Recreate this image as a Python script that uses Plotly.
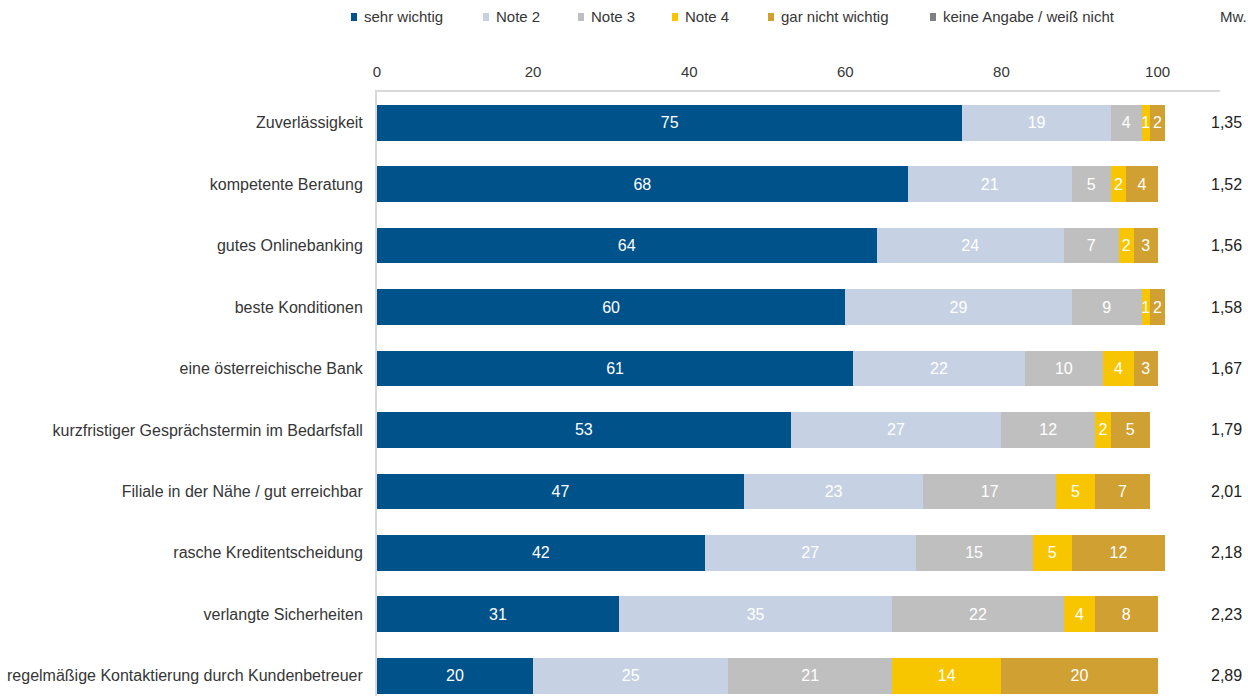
import plotly.graph_objects as go

# --- data -------------------------------------------------------------
categories = [
    "Zuverlässigkeit",
    "kompetente Beratung",
    "gutes Onlinebanking",
    "beste Konditionen",
    "eine österreichische Bank",
    "kurzfristiger Gesprächstermin im Bedarfsfall",
    "Filiale in der Nähe / gut erreichbar",
    "rasche Kreditentscheidung",
    "verlangte Sicherheiten",
    "regelmäßige Kontaktierung durch Kundenbetreuer",
]

series_names = ["sehr wichtig", "Note 2", "Note 3", "Note 4",
                "gar nicht wichtig", "keine Angabe / weiß nicht"]

sehr_wichtig = [75, 68, 64, 60, 61, 53, 47, 42, 31, 20]
note_2 = [19, 21, 24, 29, 22, 27, 23, 27, 35, 25]
note_3 = [4, 5, 7, 9, 10, 12, 17, 15, 22, 21]
note_4 = [1, 2, 2, 1, 4, 2, 5, 5, 4, 14]
gar_nicht_wichtig = [2, 4, 3, 2, 3, 5, 7, 12, 8, 20]
keine_angabe = [0, 0, 0, 0, 0, 0, 0, 0, 0, 0]

mittelwert = [1.35, 1.52, 1.56, 1.58, 1.67, 1.79, 2.01, 2.18, 2.23, 2.89]

x_ticks = [0, 20, 40, 60, 80, 100]

# --- styling ----------------------------------------------------------
colors = ["#00528A", "#C6D2E3", "#BFBFBF", "#F7C600", "#D1A033", "#808080"]
FONT = "Liberation Sans, Arial, sans-serif"
TEXT_COLOR = "#363636"
LINE_COLOR = "#D9D9D9"

W, H = 1248, 696
L, R, T, B = 377, 28, 92, 0
PW, PH = W - L - R, H - T - B


def paper_x(px):
    return (px - L) / PW


def paper_y(py):
    return (H - B - py) / PH


series_values = [sehr_wichtig, note_2, note_3, note_4, gar_nicht_wichtig, keine_angabe]

fig = go.Figure()
for name, vals, col in zip(series_names, series_values, colors):
    fig.add_trace(go.Bar(
        name=name,
        y=categories,
        x=vals,
        orientation="h",
        marker=dict(color=col, line=dict(width=0)),
        text=[str(v) if v else "" for v in vals],
        textposition="inside",
        insidetextanchor="middle",
        textangle=0,
        textfont=dict(family=FONT, size=16, color="white"),
        width=0.58,
        showlegend=False,
        hoverinfo="x+y+name",
    ))

# legend drawn as coloured squares with labels along the top
legend_x_px = [351, 483, 578, 672, 768, 930]
legend_y_px = 17
shapes = []
annotations = []
for name, col, lx in zip(series_names, colors, legend_x_px):
    shapes.append(dict(
        type="rect", xref="paper", yref="paper",
        x0=paper_x(lx), x1=paper_x(lx + 6),
        y0=paper_y(legend_y_px + 4), y1=paper_y(legend_y_px - 4),
        fillcolor=col, line=dict(width=0), layer="above",
    ))
    annotations.append(dict(
        text=name, xref="paper", yref="paper",
        x=paper_x(lx + 11), y=paper_y(legend_y_px),
        xanchor="left", yanchor="middle", showarrow=False,
        font=dict(family=FONT, size=15, color=TEXT_COLOR),
    ))

# mean-value column
annotations.append(dict(
    text="Mw.", xref="paper", yref="paper",
    x=paper_x(1218), y=paper_y(legend_y_px),
    xanchor="left", yanchor="middle", showarrow=False,
    font=dict(family=FONT, size=15, color=TEXT_COLOR),
))
for cat, mw in zip(categories, mittelwert):
    annotations.append(dict(
        text=f"{mw:.2f}".replace(".", ","), xref="paper", yref="y",
        x=paper_x(1244), y=cat,
        xanchor="right", yanchor="middle", showarrow=False,
        font=dict(family=FONT, size=16, color="#222222"),
    ))

fig.update_layout(
    width=W, height=H, autosize=False,
    margin=dict(l=L, r=R, t=T, b=B, pad=0),
    barmode="stack",
    paper_bgcolor="white",
    plot_bgcolor="white",
    font=dict(family=FONT, size=15, color=TEXT_COLOR),
    uniformtext=dict(minsize=16, mode="show"),
    shapes=shapes,
    annotations=annotations,
    xaxis=dict(
        side="top",
        range=[0, 108],
        tickvals=x_ticks,
        ticktext=[str(t) for t in x_ticks],
        tickfont=dict(family=FONT, size=15, color=TEXT_COLOR),
        showgrid=False,
        zeroline=False,
        showline=True,
        linecolor=LINE_COLOR,
        linewidth=2,
        ticks="",
        ticklabelstandoff=7,
        fixedrange=True,
    ),
    yaxis=dict(
        type="category",
        categoryorder="array",
        categoryarray=categories,
        range=[9.33, -0.5],
        tickfont=dict(family=FONT, size=16, color=TEXT_COLOR),
        showgrid=False,
        zeroline=False,
        showline=True,
        linecolor=LINE_COLOR,
        linewidth=2,
        ticks="",
        ticklabelstandoff=9,
        fixedrange=True,
    ),
)

fig.write_html("out.html")
